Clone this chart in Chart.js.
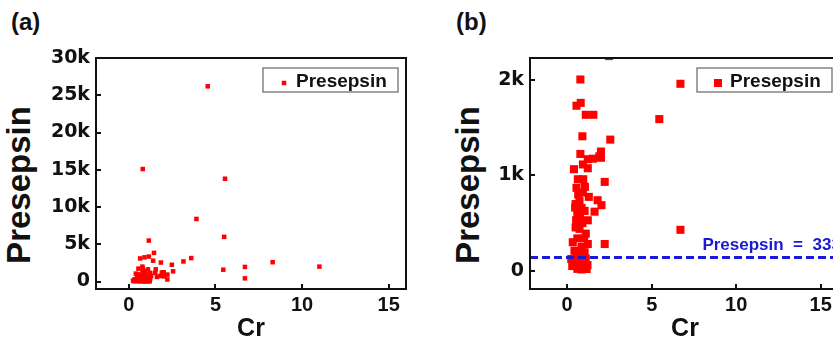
<!DOCTYPE html>
<html>
<head>
<meta charset="utf-8">
<script src="https://cdn.jsdelivr.net/npm/chart.js@4.4.0/dist/chart.umd.min.js"></script>
<style>
body{margin:0;width:833px;height:342px;overflow:hidden;background:#fff;position:relative;font-family:"Liberation Sans",Arial,sans-serif}
canvas{position:absolute;top:0}
.tag{position:absolute;top:10px;font-weight:bold;font-size:24px;line-height:1;color:#111}
.ytitle{position:absolute;font-weight:bold;font-size:33px;line-height:1;color:#111;white-space:nowrap;transform:translate(-50%,-50%) rotate(-90deg)}
</style>
</head>
<body>
<div class="tag" style="left:11px">(a)</div>
<div class="tag" style="left:456px">(b)</div>
<div class="ytitle" style="left:18px;top:185px">Presepsin</div>
<div class="ytitle" style="left:467px;top:185px">Presepsin</div>
<canvas id="chartA" width="420" height="342" style="left:0"></canvas>
<canvas id="chartB" width="430" height="342" style="left:420px"></canvas>
<script>
// Cr vs Presepsin
const cr = [4.55, 0.8, 5.55, 3.9, 5.5, 1.15, 1.45, 1.15, 0.9, 0.65, 3.6, 1.4, 3.15, 8.3, 1.85, 2.48, 11.0,
  6.7, 0.78, 0.55, 0.8, 1.1, 1.55, 0.9, 2.55, 5.45, 0.78, 2.0, 2.0, 1.22, 1.52, 1.9, 0.4, 0.93, 1.22,
  0.63, 2.22, 0.55, 0.93, 1.28, 1.8, 0.73, 2.03, 0.5, 0.47, 1.03, 1.62, 0.76, 0.53, 1.22, 0.73, 1.1,
  0.5, 0.33, 1.22, 2.22, 6.7, 0.43, 1.03, 0.73, 0.24, 0.45, 0.75, 0.95, 0.3, 0.6, 1.0, 1.15, 0.85,
  0.95, 0.65, 1.05, 0.85, 0.6, 0.9, 1.0, 0.6, 0.85, 0.55, 1.1, 0.7, 0.35, 1.2, 0.5, 1.05];
const presepsin = [26200, 15100, 13800, 8400, 6000, 5500, 3850, 3350, 3250, 3100, 3150, 2800, 2700, 2600, 2550, 2250, 2000,
  1960, 2005, 1730, 1760, 1635, 1635, 1410, 1375, 1590, 1225, 1250, 1185, 1170, 1175, 1200, 1065, 1115, 1075,
  960, 932, 870, 820, 775, 740, 730, 688, 700, 663, 628, 620, 575, 530, 530, 440, 390,
  455, 300, 281, 281, 430, 211, 195, 195, 125, 70, 60, 55, 50, 21, 42, 20, 15,
  960, 800, 880, 660, 600, 500, 340, 340, 250, 150, 130, 100, 90, 60, 100, 85];

const xTicks = [0, 5, 10, 15];
const yTicksA = [0, 5000, 10000, 15000, 20000, 25000, 30000];
const yLabelsA = ['0', '5k', '10k', '15k', '20k', '25k', '30k'];
const yTicksB = [0, 1000, 2000];
const yLabelsB = ['0', '1k', '2k'];
const cutoff = 140;
const cutoffLabel = 'Presepsin  =  333';

Chart.defaults.font.family = '"Liberation Sans", Arial, sans-serif';
Chart.defaults.color = '#111';

const points = cr.map((v, i) => ({x: v, y: presepsin[i]}));

const framePlugin = {
  id: 'frame',
  afterDatasetsDraw(chart, args, o) {
    if (o.cutoff == null) return;
    const {ctx, chartArea: a, scales: {x, y}} = chart;
    const py = y.getPixelForValue(o.cutoff);
    ctx.save();
    ctx.strokeStyle = '#1a1ad2';
    ctx.lineWidth = 3;
    ctx.setLineDash([8, 4]);
    ctx.beginPath();
    ctx.moveTo(a.left, py);
    ctx.lineTo(a.right, py);
    ctx.stroke();
    ctx.setLineDash([]);
    ctx.fillStyle = '#1a1ad2';
    ctx.font = 'bold 17px "Liberation Sans"';
    ctx.textBaseline = 'alphabetic';
    ctx.fillText(o.label, x.getPixelForValue(8.0), py - 8);
    ctx.restore();
  },
  afterDraw(chart, args, o) {
    const {ctx, chartArea: a, scales: {x, y}} = chart;
    ctx.save();
    ctx.strokeStyle = '#111';
    ctx.lineWidth = 2;
    ctx.strokeRect(a.left, a.top, a.right - a.left, a.bottom - a.top);
    ctx.beginPath();
    x.ticks.forEach(t => {
      const px = Math.round(x.getPixelForValue(t.value));
      ctx.moveTo(px, a.bottom);
      ctx.lineTo(px, a.bottom - 5);
    });
    y.ticks.forEach(t => {
      const py = Math.round(y.getPixelForValue(t.value));
      ctx.moveTo(a.left, py);
      ctx.lineTo(a.left + 5, py);
    });
    ctx.stroke();

    // legend box
    const bx = a.right - 8 - 135, by = a.top + 10;
    ctx.fillStyle = '#fff';
    ctx.fillRect(bx, by, 135, 24);
    ctx.strokeStyle = '#666';
    ctx.lineWidth = 1.2;
    ctx.strokeRect(bx, by, 135, 24);
    const m = o.marker;
    ctx.fillStyle = '#ff0000';
    ctx.fillRect(bx + 21 - m / 2, by + 15 - m / 2, m, m);
    ctx.fillStyle = '#111';
    ctx.font = 'bold 19px "Liberation Sans"';
    ctx.textBaseline = 'alphabetic';
    ctx.fillText(chart.data.datasets[0].label, bx + 33, by + 19);
    ctx.restore();
  }
};

function makeChart(id, cfg) {
  return new Chart(document.getElementById(id), {
    type: 'scatter',
    data: {
      datasets: [{
        label: 'Presepsin',
        data: points,
        pointStyle: 'rect',
        pointRadius: cfg.radius,
        pointHoverRadius: cfg.radius,
        backgroundColor: '#ff0000',
        borderWidth: 0,
        clip: 0
      }]
    },
    options: {
      responsive: false,
      animation: false,
      events: [],
      layout: {padding: {top: 58, right: cfg.padRight, left: 0, bottom: 0}},
      plugins: {
        legend: {display: false},
        tooltip: {enabled: false},
        frame: {marker: cfg.marker, cutoff: cfg.cutoff, label: cutoffLabel}
      },
      scales: {
        x: {
          type: 'linear', min: cfg.xMin, max: cfg.xMax,
          afterBuildTicks: s => { s.ticks = xTicks.map(v => ({value: v})); },
          grid: {display: false, drawTicks: false},
          border: {display: false},
          ticks: {font: {size: 20, weight: 'bold'}, color: '#111', padding: 4},
          title: {display: true, text: 'Cr', font: {size: 25, weight: 'bold', lineHeight: 1}, padding: 0, color: '#111'},
          afterFit: s => { s.height = 53; }
        },
        y: {
          type: 'linear', min: cfg.yMin, max: cfg.yMax,
          afterBuildTicks: s => { s.ticks = cfg.yTicks.map(v => ({value: v})); },
          grid: {display: false, drawTicks: false},
          border: {display: false},
          ticks: {
            font: {family: '"DejaVu Sans"', size: 19, weight: 'bold'}, color: '#111', padding: 6,
            callback: (v, i) => cfg.yLabels[i]
          },
          afterFit: s => { s.width = cfg.yWidth; }
        }
      }
    },
    plugins: [framePlugin]
  });
}

makeChart('chartA', {radius: 3.2, marker: 4.5, padRight: 14, yWidth: 96,
  xMin: -1.9, xMax: 16, yMin: -1000, yMax: 30000, yTicks: yTicksA, yLabels: yLabelsA, cutoff: null});
makeChart('chartB', {radius: 5.7, marker: 8, padRight: 10, yWidth: 110,
  xMin: -2.2, xMax: 16.14, yMin: -190, yMax: 2230, yTicks: yTicksB, yLabels: yLabelsB, cutoff: cutoff});
</script>
</body>
</html>
